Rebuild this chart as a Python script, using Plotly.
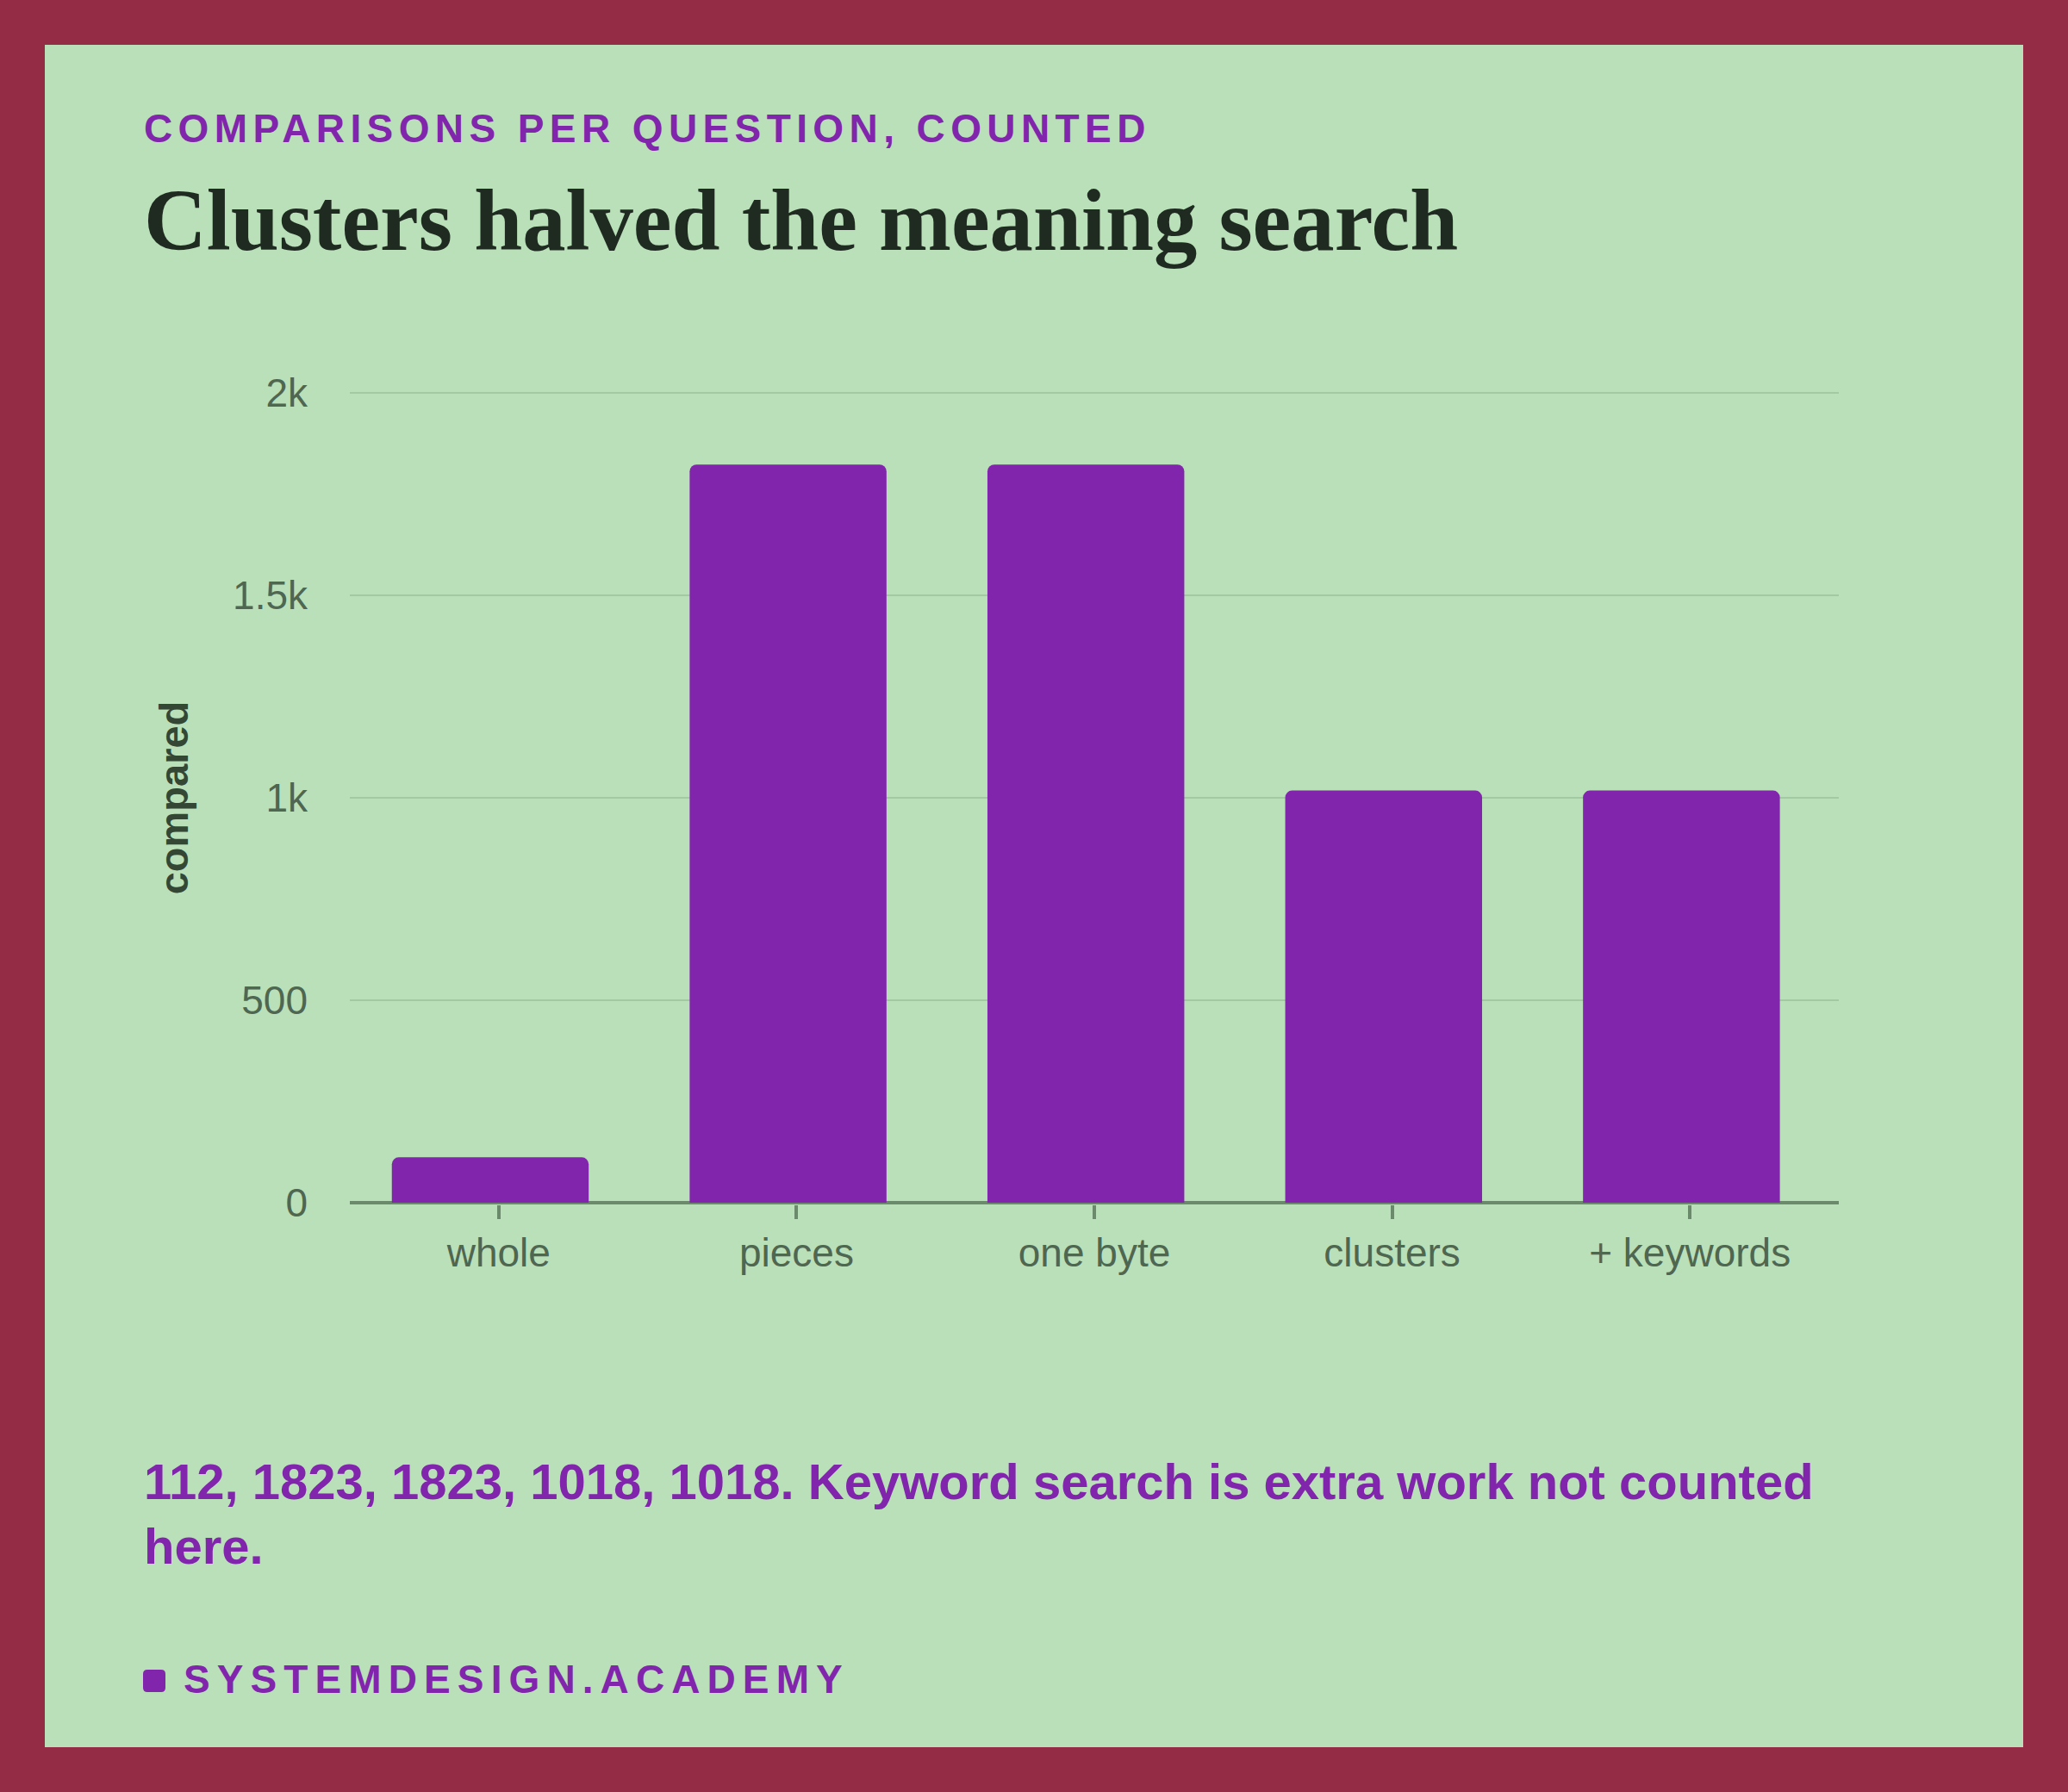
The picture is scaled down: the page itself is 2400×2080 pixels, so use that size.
import plotly.graph_objects as go

categories = ["whole", "pieces", "one byte", "clusters", "+ keywords"]
compared = [112, 1823, 1823, 1018, 1018]
y_ticks = [0, 500, 1000, 1500, 2000]
y_labels = ["0", "500", "1k", "1.5k", "2k"]

EYEBROW = "COMPARISONS PER QUESTION, COUNTED"
TITLE = "Clusters halved the meaning search"
NOTE = "112, 1823, 1823, 1018, 1018. Keyword search is extra work not counted<br>here."
BRAND = "SYSTEMDESIGN.ACADEMY"

W, H = 2400, 2080
BORDER = "#952c46"
CARD = "#bae0b9"
PURPLE = "#8225ad"
INK = "#1f2a20"
MUTED = "#4f6650"
AXIS = "#6b8a6b"
GRID = "#a3c9a3"
SANS = "Liberation Sans, Arial, sans-serif"
SERIF = "Liberation Serif, Times New Roman, serif"


def px(x):
    return x / W


def py(y):
    return 1 - y / H


def label(text, x, y, size, color, family=SERIF):
    return dict(text=text, xref="paper", yref="paper", x=px(x), y=py(y),
                xanchor="left", yanchor="top", align="left", showarrow=False,
                borderpad=0, font=dict(size=size, color=color, family=family, weight=700))


fig = go.Figure(go.Bar(
    x=categories, y=compared, width=0.661, offset=-0.3589,
    marker=dict(color=PURPLE, line_width=0, cornerradius=8),
    hoverinfo="x+y",
))

sx0, sx1, sy0, sy1 = px(166), px(192), py(1938), py(1964)
rx, ry = 5 / W, 5 / H
marker_path = (
    f"M {sx0+rx} {sy0} L {sx1-rx} {sy0} Q {sx1} {sy0} {sx1} {sy0-ry} "
    f"L {sx1} {sy1+ry} Q {sx1} {sy1} {sx1-rx} {sy1} "
    f"L {sx0+rx} {sy1} Q {sx0} {sy1} {sx0} {sy1+ry} "
    f"L {sx0} {sy0-ry} Q {sx0} {sy0} {sx0+rx} {sy0} Z"
)

fig.update_layout(
    width=W, height=H, autosize=False,
    margin=dict(l=0, r=0, t=0, b=0, pad=0),
    paper_bgcolor=BORDER, plot_bgcolor="rgba(0,0,0,0)",
    showlegend=False,
    font=dict(family=SANS, color=MUTED),
    shapes=[
        dict(type="rect", xref="paper", yref="paper", x0=px(52), x1=px(W - 52),
             y0=py(52), y1=py(H - 52), fillcolor=CARD, line_width=0, layer="below"),
        dict(type="path", xref="paper", yref="paper", path=marker_path,
             fillcolor=PURPLE, line_width=0),
    ],
    annotations=[
        label(EYEBROW, 166, 122, 46, PURPLE, SANS),
        label(TITLE, 166, 199, 100.7, INK, SERIF),
        label(NOTE, 166, 1686, 58, PURPLE, SANS),
        label(BRAND, 212, 1922, 46, PURPLE, SANS),
    ],
)

fig.update_xaxes(
    domain=[px(406), px(2134)],
    type="category", showline=False,
    ticks="outside", ticklen=15.6, tickwidth=4, tickcolor=AXIS,
    tickfont=dict(size=46, color=MUTED, family=SANS), showgrid=False,
    automargin=False, ticklabelstandoff=0,
)
fig.update_yaxes(
    domain=[py(1398.35), py(453.65)],
    range=[-5, 2005], tickvals=y_ticks, ticktext=y_labels,
    showgrid=True, gridcolor=GRID, gridwidth=2,
    zeroline=True, zerolinecolor=AXIS, zerolinewidth=4,
    showline=False, ticks="", ticklabelstandoff=48,
    tickfont=dict(size=46, color=MUTED, family=SANS), automargin=False,
    title=dict(text="compared", standoff=36,
               font=dict(size=47, color="#344735", family=SANS, weight=700)),
)

post = """
document.documentElement.style.margin = 0;
document.body.style.margin = 0;
document.body.style.overflow = 'hidden';
var spacing = ['6.4px', '0', '0', '8.1px'];
document.querySelectorAll('.annotation-text').forEach(function (t, i) {
  t.style.letterSpacing = spacing[i];
});
"""
fig.write_html("out.html", post_script=post, config={"displayModeBar": False})
